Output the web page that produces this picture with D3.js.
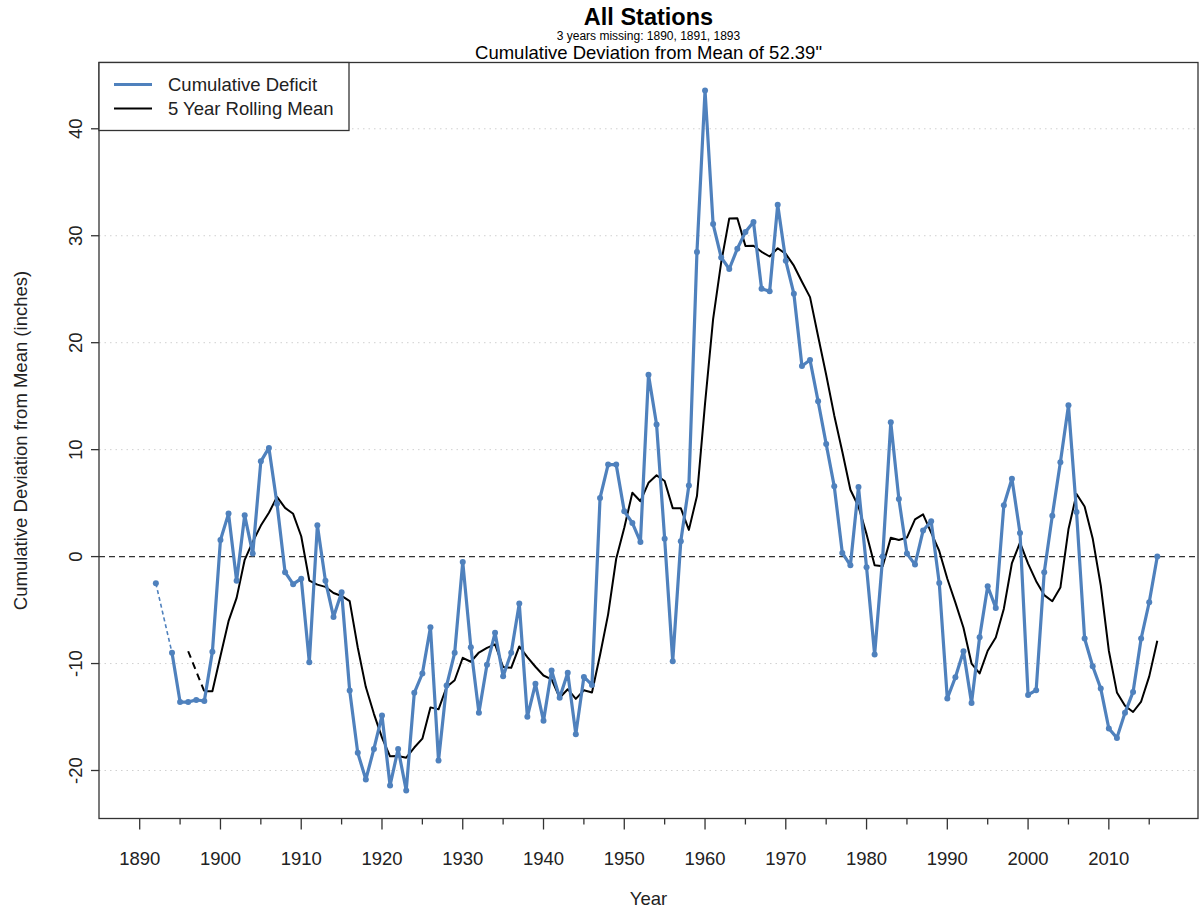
<!DOCTYPE html>
<html>
<head>
<meta charset="utf-8">
<script src="https://cdn.jsdelivr.net/npm/d3@7"></script>
<style>
  html, body { margin: 0; padding: 0; background: #fff; }
  svg { display: block; font-family: "Liberation Sans", Arial, sans-serif; }
</style>
</head>
<body>
<svg id="chart" width="1201" height="911"></svg>
<script>
// ---------------- DATA ----------------
const titleText = "All Stations";
const subtitleText = "3 years missing: 1890, 1891, 1893";
const subtitle2Text = "Cumulative Deviation from Mean of 52.39\"";
const xLabel = "Year";
const yLabel = "Cumulative Deviation from Mean (inches)";
const seriesNames = ["Cumulative Deficit", "5 Year Rolling Mean"];

const firstYear = 1890;
const lastYear = 2016;
const years = d3.range(firstYear, lastYear + 1);

// Cumulative deficit, 1890..2016 (null = missing year)
const deficit = [
  null, null, -2.5, null, -9.0, -13.6, -13.6, -13.4, -13.5, -8.9,
  1.56, 4.02, -2.27, 3.86, 0.28, 8.91, 10.16, 4.95, -1.46, -2.58,
  -2.06, -9.87, 2.93, -2.27, -5.64, -3.33, -12.52, -18.35, -20.84, -17.98,
  -14.86, -21.4, -17.98, -21.87, -12.74, -10.93, -6.6, -19.07, -12.06, -9.0,
  -0.5, -8.47, -14.61, -10.12, -7.13, -11.18, -9.0, -4.39, -14.98, -11.9,
  -15.36, -10.65, -13.2, -10.87, -16.6, -11.25, -12.0, 5.48, 8.6, 8.6,
  4.24, 3.15, 1.37, 17.0, 12.34, 1.68, -9.78, 1.43, 6.64, 28.48,
  43.58, 31.09, 27.97, 26.89, 28.79, 30.34, 31.28, 25.05, 24.8, 32.9,
  27.66, 24.58, 17.82, 18.38, 14.52, 10.53, 6.57, 0.34, -0.81, 6.51,
  -1.0, -9.16, 0.0, 12.55, 5.39, 0.28, -0.75, 2.43, 3.3, -2.46,
  -13.27, -11.28, -8.85, -13.68, -7.54, -2.77, -4.8, 4.8, 7.29, 2.21,
  -12.93, -12.49, -1.46, 3.83, 8.82, 14.14, 4.17, -7.66, -10.25, -12.34,
  -16.07, -16.95, -14.61, -12.65, -7.66, -4.27, 0.0
];

// 5 year rolling mean, 1890..2016 (null = not drawn)
const rolling = [
  null, null, null, null, null, null, -8.85, null, -12.6, -12.59,
  -9.3, -6.04, -3.86, -0.3, 1.4, 2.9, 4.1, 5.58, 4.55, 4.0,
  1.9, -2.24, -2.62, -2.83, -3.4, -3.68, -4.17, -8.5, -12.2, -14.7,
  -16.93, -18.67, -18.64, -18.8, -17.85, -17.02, -14.1, -14.28, -12.2, -11.56,
  -9.46, -9.83, -8.97, -8.53, -8.2, -10.32, -10.4, -8.4, -9.4, -10.3,
  -11.12, -11.48, -13.2, -12.4, -13.3, -12.5, -12.7, -9.2, -5.4, -0.2,
  2.7, 5.97, 5.18, 6.9, 7.6, 7.07, 4.53, 4.53, 2.5, 5.66,
  14.3, 22.2, 27.5, 31.62, 31.64, 29.05, 29.07, 28.5, 28.06, 28.83,
  28.3, 27.2, 25.7, 24.26, 20.6, 17.0, 13.2, 9.8, 6.25, 4.68,
  2.1, -0.82, -0.9, 1.76, 1.55, 1.78, 3.48, 3.95, 2.25, 0.53,
  -2.07, -4.3, -6.65, -10.0, -10.92, -8.8, -7.56, -4.87, -0.6, 1.3,
  -0.65, -2.3, -3.6, -4.17, -2.9, 2.55, 5.85, 4.68, 1.7, -2.7,
  -8.8, -12.7, -13.95, -14.53, -13.55, -11.2, -7.87
];

const xTickMajor = [1890, 1900, 1910, 1920, 1930, 1940, 1950, 1960, 1970, 1980, 1990, 2000, 2010];
const xTickMinor = [1895, 1905, 1915, 1925, 1935, 1945, 1955, 1965, 1975, 1985, 1995, 2005, 2015];
const yTicks = [-20, -10, 0, 10, 20, 30, 40];
const yGrid = [-20, -10, 10, 20, 30, 40];

// ---------------- LAYOUT ----------------
const svg = d3.select("#chart");
const plot = { left: 99, right: 1198, top: 62.5, bottom: 818.5 };
const blue = "#4f81bd";
const fs = 18.5;

const xPad = (lastYear - firstYear) * 0.04;
const x = d3.scaleLinear().domain([firstYear - xPad, lastYear + xPad]).range([plot.left, plot.right]);
const allVals = deficit.filter(v => v != null);
const yMin = d3.min(allVals), yMax = d3.max(allVals);
const yPad = (yMax - yMin) * 0.04;
const y = d3.scaleLinear().domain([yMin - yPad, yMax + yPad]).range([plot.bottom, plot.top]);

const pts = years.map((yr, i) => ({ year: yr, v: deficit[i] }));
const rpts = years.map((yr, i) => ({ year: yr, v: rolling[i] }));

// gridlines
svg.append("g").selectAll("line").data(yGrid).join("line")
  .attr("x1", plot.left).attr("x2", plot.right)
  .attr("y1", d => y(d)).attr("y2", d => y(d))
  .attr("stroke", "#d0d0d0").attr("stroke-width", 1)
  .attr("stroke-dasharray", "1.5,4");

// zero line
svg.append("line")
  .attr("x1", plot.left).attr("x2", plot.right)
  .attr("y1", y(0)).attr("y2", y(0))
  .attr("stroke", "#333").attr("stroke-width", 1.3)
  .attr("stroke-dasharray", "6,4");

// helper: gap segments (connect last defined point before a gap with first after)
function gapSegments(arr) {
  const segs = [];
  let prev = null;
  for (let i = 0; i < arr.length; i++) {
    if (arr[i].v != null) {
      if (prev != null && i - prev > 1) segs.push([arr[prev], arr[i]]);
      prev = i;
    }
  }
  return segs;
}

const line = d3.line().defined(d => d.v != null).x(d => x(d.year)).y(d => y(d.v));

// rolling mean
svg.append("path").datum(rpts)
  .attr("fill", "none").attr("stroke", "#000").attr("stroke-width", 2)
  .attr("stroke-linejoin", "round").attr("d", line);
svg.append("g").selectAll("line").data(gapSegments(rpts)).join("line")
  .attr("x1", d => x(d[0].year)).attr("y1", d => y(d[0].v))
  .attr("x2", d => x(d[1].year)).attr("y2", d => y(d[1].v))
  .attr("stroke", "#000").attr("stroke-width", 2).attr("stroke-dasharray", "7,5");

// deficit
svg.append("path").datum(pts)
  .attr("fill", "none").attr("stroke", blue).attr("stroke-width", 3.2)
  .attr("stroke-linejoin", "round").attr("d", line);
svg.append("g").selectAll("line").data(gapSegments(pts)).join("line")
  .attr("x1", d => x(d[0].year)).attr("y1", d => y(d[0].v))
  .attr("x2", d => x(d[1].year)).attr("y2", d => y(d[1].v))
  .attr("stroke", blue).attr("stroke-width", 1.6).attr("stroke-dasharray", "4,3");
svg.append("g").selectAll("circle").data(pts.filter(d => d.v != null)).join("circle")
  .attr("cx", d => x(d.year)).attr("cy", d => y(d.v)).attr("r", 3)
  .attr("fill", blue);

// box
svg.append("rect")
  .attr("x", plot.left).attr("y", plot.top)
  .attr("width", plot.right - plot.left).attr("height", plot.bottom - plot.top)
  .attr("fill", "none").attr("stroke", "#333").attr("stroke-width", 1.3);

// x axis ticks
const gx = svg.append("g");
gx.selectAll("line.maj").data(xTickMajor).join("line")
  .attr("x1", d => x(d)).attr("x2", d => x(d))
  .attr("y1", plot.bottom).attr("y2", plot.bottom + 11)
  .attr("stroke", "#333").attr("stroke-width", 1.3);
gx.selectAll("line.min").data(xTickMinor).join("line")
  .attr("x1", d => x(d)).attr("x2", d => x(d))
  .attr("y1", plot.bottom).attr("y2", plot.bottom + 6)
  .attr("stroke", "#333").attr("stroke-width", 1.3);
gx.selectAll("text").data(xTickMajor).join("text")
  .attr("x", d => x(d)).attr("y", 865)
  .attr("text-anchor", "middle").attr("font-size", fs).attr("fill", "#222")
  .text(d => d);

// y axis ticks
const gy = svg.append("g");
gy.selectAll("line").data(yTicks).join("line")
  .attr("x1", plot.left - 8).attr("x2", plot.left)
  .attr("y1", d => y(d)).attr("y2", d => y(d))
  .attr("stroke", "#333").attr("stroke-width", 1.3);
gy.selectAll("text").data(yTicks).join("text")
  .attr("transform", d => `translate(82,${y(d)}) rotate(-90)`)
  .attr("text-anchor", "middle").attr("font-size", fs).attr("fill", "#222")
  .text(d => d);

// axis titles
svg.append("text").attr("x", (plot.left + plot.right) / 2).attr("y", 905)
  .attr("text-anchor", "middle").attr("font-size", fs).attr("fill", "#222").text(xLabel);
svg.append("text")
  .attr("transform", `translate(27,${(plot.top + plot.bottom) / 2}) rotate(-90)`)
  .attr("text-anchor", "middle").attr("font-size", fs).attr("fill", "#222").text(yLabel);

// titles
const cx = (plot.left + plot.right) / 2;
svg.append("text").attr("x", cx).attr("y", 25).attr("text-anchor", "middle")
  .attr("font-size", 23.5).attr("font-weight", "bold").text(titleText);
svg.append("text").attr("x", cx).attr("y", 40).attr("text-anchor", "middle")
  .attr("font-size", 12).text(subtitleText);
svg.append("text").attr("x", cx).attr("y", 59).attr("text-anchor", "middle")
  .attr("font-size", fs).text(subtitle2Text);

// legend
const lg = svg.append("g");
lg.append("rect").attr("x", plot.left).attr("y", plot.top)
  .attr("width", 250).attr("height", 68)
  .attr("fill", "#fff").attr("stroke", "#333").attr("stroke-width", 1.3);
const legendColors = [blue, "#000"];
const legendWidths = [3.2, 2];
seriesNames.forEach((name, i) => {
  const ly = 84.5 + i * 24;
  lg.append("line").attr("x1", 114).attr("x2", 152).attr("y1", ly).attr("y2", ly)
    .attr("stroke", legendColors[i]).attr("stroke-width", legendWidths[i]);
  lg.append("text").attr("x", 168).attr("y", ly).attr("dy", "0.35em")
    .attr("font-size", fs).attr("fill", "#222").text(name);
});
</script>
</body>
</html>
